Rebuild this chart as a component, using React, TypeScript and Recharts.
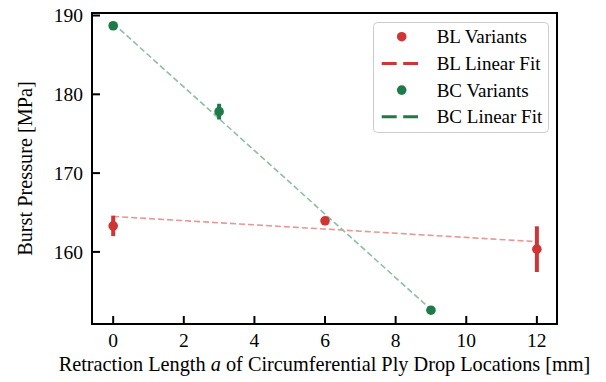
import React from 'react';
import { ComposedChart, XAxis, YAxis, Scatter, Line, ErrorBar, ReferenceArea, Legend } from 'recharts';

const xTicks = [0, 2, 4, 6, 8, 10, 12];
const yTicks = [160, 170, 180, 190];

const blX = [0, 6, 12];
const blY = [163.3, 163.95, 160.35];
const blErr = [1.3, 0.3, 2.9];

const bcX = [0, 3, 9];
const bcY = [188.7, 177.8, 152.6];
const bcErr = [0.3, 1.0, 0.2];

const blFitX = [0, 12];
const blFitY = [164.5, 161.3];
const bcFitX = [0, 9];
const bcFitY = [189.0, 152.7];

const RED = '#d03535';
const GREEN = '#1e7b48';
const RED_FADE = '#e89797';
const GREEN_FADE = '#8fbea3';
const FONT = 'Liberation Serif';
const FS = 19;
const TICK_FS = 19.5;
const LABEL_FS = 20.3;

const blData = blX.map((x, i) => ({ x, y: blY[i], err: blErr[i] }));
const bcData = bcX.map((x, i) => ({ x, y: bcY[i], err: bcErr[i] }));
const blFit = blFitX.map((x, i) => ({ x, y: blFitY[i] }));
const bcFit = bcFitX.map((x, i) => ({ x, y: bcFitY[i] }));

const legendItems = [
  { label: 'BL Variants', color: RED, kind: 'dot' },
  { label: 'BL Linear Fit', color: RED, kind: 'line' },
  { label: 'BC Variants', color: GREEN, kind: 'dot' },
  { label: 'BC Linear Fit', color: GREEN, kind: 'line' },
];

const LegendBox = () => (
  <svg width={177} height={112} style={{ display: 'block' }}>
    <rect x={0.5} y={0.5} width={175} height={110} rx={4} fill="rgba(255,255,255,0.8)" stroke="#cccccc" strokeWidth={1} />
    {legendItems.map((it, i) => {
      const cy = 14.7 + i * 26.7;
      return (
        <g key={it.label}>
          {it.kind === 'dot' ? (
            <circle cx={28.7} cy={cy} r={4.8} fill={it.color} />
          ) : (
            <line x1={8.7} x2={45} y1={cy} y2={cy} stroke={it.color} strokeWidth={3} strokeDasharray="15 6.5" />
          )}
          <text x={63.7} y={cy} dominantBaseline="central" fontSize={FS} fontFamily={FONT} fill="#000">
            {it.label}
          </text>
        </g>
      );
    })}
  </svg>
);

const dot = (color: string) => (props: any) => <circle cx={props.cx} cy={props.cy} r={4.8} fill={color} />;

const XTick = (props: any) => {
  const { x, y, payload } = props;
  return (
    <text x={x} y={y} dy="0.71em" textAnchor="middle" fontSize={TICK_FS} fontFamily={FONT} fill="#000">
      {payload.value}
    </text>
  );
};

const YTick = (props: any) => {
  const { x, y, payload } = props;
  return (
    <text x={x} y={y} dy="0.355em" textAnchor="end" fontSize={TICK_FS} fontFamily={FONT} fill="#000">
      {payload.value}
    </text>
  );
};

export default function App() {
  return (
    <div style={{ position: 'absolute', left: 0, top: 0, background: '#fff', fontFamily: FONT }}>
      <ComposedChart
        width={606}
        height={382}
        margin={{ top: 13, right: 49, bottom: 0, left: 0 }}
        style={{ fontFamily: FONT }}
      >
        <XAxis
          type="number"
          dataKey="x"
          domain={[-0.6, 12.57]}
          allowDataOverflow
          ticks={xTicks}
          height={58}
          tickSize={-8}
          tickMargin={17}
          axisLine={{ stroke: '#000', strokeWidth: 2 }}
          tickLine={{ stroke: '#000', strokeWidth: 2 }}
          tick={<XTick />}
          label={{
            content: (p: any) => {
              const vb = p.viewBox;
              return (
                <text x={vb.x + vb.width / 2} y={vb.y + 47} textAnchor="middle" fontSize={LABEL_FS} fontFamily={FONT} fill="#000">
                  Retraction Length <tspan fontStyle="italic">a</tspan> of Circumferential Ply Drop Locations [mm]
                </text>
              );
            },
          }}
        />
        <YAxis
          type="number"
          domain={[150.85, 190.32]}
          allowDataOverflow
          ticks={yTicks}
          width={92}
          tickSize={-8}
          tickMargin={17}
          axisLine={{ stroke: '#000', strokeWidth: 2 }}
          tickLine={{ stroke: '#000', strokeWidth: 2 }}
          tick={<YTick />}
          label={{
            content: (p: any) => {
              const vb = p.viewBox;
              const cx = 25;
              const cy = vb.y + vb.height / 2;
              return (
                <text x={cx} y={cy} transform={`rotate(-90 ${cx} ${cy})`} textAnchor="middle" dominantBaseline="central" fontSize={LABEL_FS} fontFamily={FONT} fill="#000">
                  Burst Pressure [MPa]
                </text>
              );
            },
          }}
        />
        <ReferenceArea x1={-0.6} x2={12.57} y1={150.85} y2={190.32} fill="none" stroke="#000" strokeWidth={2} ifOverflow="visible" />
        <Line data={blFit} dataKey="y" stroke={RED_FADE} strokeWidth={1.6} strokeDasharray="6 3" dot={false} activeDot={false} isAnimationActive={false} legendType="none" />
        <Line data={bcFit} dataKey="y" stroke={GREEN_FADE} strokeWidth={1.6} strokeDasharray="6 3" dot={false} activeDot={false} isAnimationActive={false} legendType="none" />
        <Scatter data={blData} dataKey="y" fill={RED} shape={dot(RED)} isAnimationActive={false}>
          <ErrorBar dataKey="err" direction="y" width={0} stroke={RED} strokeWidth={4} />
        </Scatter>
        <Scatter data={bcData} dataKey="y" fill={GREEN} shape={dot(GREEN)} isAnimationActive={false}>
          <ErrorBar dataKey="err" direction="y" width={0} stroke={GREEN} strokeWidth={4} />
        </Scatter>
        <Legend
          layout="horizontal"
          verticalAlign="middle"
          align="center"
          content={() => <LegendBox />}
          wrapperStyle={{ left: 373, top: 22, width: 177, height: 112 }}
        />
      </ComposedChart>
    </div>
  );
}
